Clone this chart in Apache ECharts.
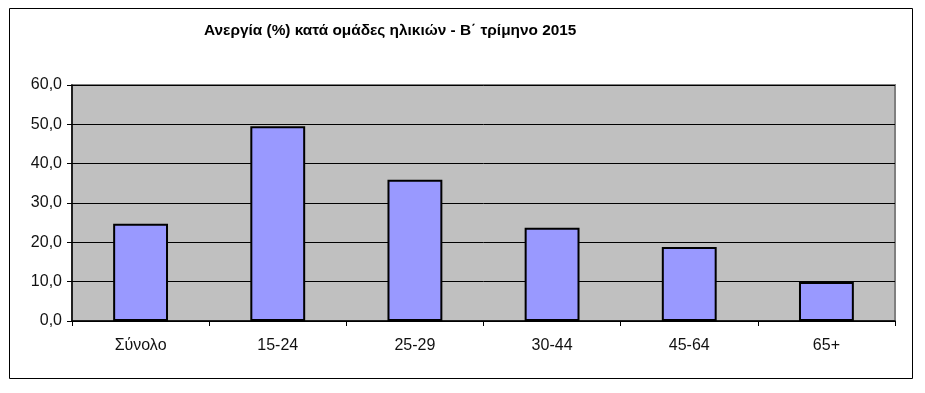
<!DOCTYPE html>
<html>
<head>
<meta charset="utf-8">
<script src="https://cdn.jsdelivr.net/npm/echarts@6/dist/echarts.min.js"></script>
<style>
html,body{margin:0;padding:0;background:#fff;}
#chart{width:925px;height:393px;}
</style>
</head>
<body>
<div id="chart"></div>
<script>
const titleText = 'Ανεργία (%) κατά ομάδες ηλικιών - Β΄ τρίμηνο 2015';
const categories = ['Σύνολο', '15-24', '25-29', '30-44', '45-64', '65+'];
const unemployment = [24.7, 49.5, 35.9, 23.7, 18.8, 9.9];
const yMin = 0, yMax = 60, yStep = 10;

const chart = echarts.init(document.getElementById('chart'), null, {renderer: 'canvas'});
chart.setOption({
  animation: false,
  backgroundColor: '#ffffff',
  title: {
    text: titleText,
    left: 199, top: 18,
    textStyle: {fontFamily: 'Liberation Sans, Arial, sans-serif', fontSize: 15.4, fontWeight: 'bold', color: '#000'}
  },
  graphic: [{
    type: 'rect', silent: true,
    shape: {x: 9.5, y: 8.5, width: 903, height: 370},
    style: {fill: 'none', stroke: '#000', lineWidth: 1}
  }],
  grid: {
    left: 72, right: 30, top: 85, bottom: 72,
    show: true, backgroundColor: '#c0c0c0', borderColor: '#808080', borderWidth: 2
  },
  xAxis: {
    type: 'category', data: categories,
    axisLine: {show: true, lineStyle: {color: '#000', width: 1.5}},
    axisTick: {show: true, alignWithLabel: false, length: 5, lineStyle: {color: '#000'}},
    axisLabel: {color: '#111', fontSize: 16, fontFamily: 'Liberation Sans, Arial, sans-serif', margin: 17},
    splitLine: {show: false}
  },
  yAxis: {
    type: 'value', min: yMin, max: yMax, interval: yStep,
    axisLine: {show: true, lineStyle: {color: '#000', width: 1.5}},
    axisTick: {show: true, length: 5, lineStyle: {color: '#000'}},
    axisLabel: {color: '#111', fontSize: 16, fontFamily: 'Liberation Sans, Arial, sans-serif', margin: 10,
      formatter: v => v.toFixed(1).replace('.', ',')},
    splitLine: {show: true, lineStyle: {color: '#000', width: 1}}
  },
  series: [{
    type: 'bar', data: unemployment, barWidth: '40%',
    itemStyle: {color: '#9999ff', borderColor: '#000', borderWidth: 2}
  }]
});
</script>
</body>
</html>
